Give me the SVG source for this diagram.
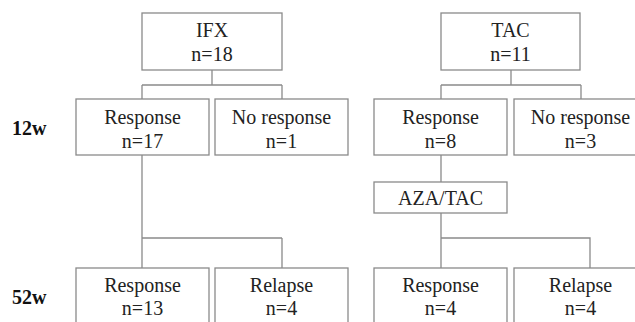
<svg xmlns="http://www.w3.org/2000/svg" width="635" height="322" viewBox="0 0 635 322">
  <style>
    .box { fill: #ffffff; stroke: #8a8a8a; stroke-width: 1.3; }
    .link { fill: none; stroke: #8a8a8a; stroke-width: 1.3; }
  </style>
  <rect width="635" height="322" fill="#ffffff"/>

  <!-- connectors -->
  <g id="connectors">
    <path class="link" d="M212,70 V85 M142,85 H282 M142,85 V99 M282,85 V99"/>
    <path class="link" d="M511,70 V85 M441,85 H581 M441,85 V99 M581,85 V99"/>
    <path class="link" d="M142,155 V238 M142,238 H282 M142,238 V268 M282,238 V268"/>
    <path class="link" d="M441,155 V182 M441,213 V268 M441,238 H590 V268"/>
  </g>

  <!-- time point labels -->
  <g id="timepoints" font-family="Liberation Serif, Times New Roman, serif" font-size="20" font-weight="bold" fill="#111111">
    <text x="12" y="135">12w</text>
    <text x="12" y="304">52w</text>
  </g>

  <g font-family="Liberation Serif, Times New Roman, serif" font-size="20" fill="#222222" text-anchor="middle">
    <!-- IFX arm -->
    <g id="ifx">
      <rect class="box" x="142" y="13" width="140" height="57"/>
      <text x="212" y="37">IFX</text>
      <text x="212" y="61">n=18</text>
    </g>
    <g id="ifx-response-12w">
      <rect class="box" x="76" y="99" width="133" height="56"/>
      <text x="142.5" y="124">Response</text>
      <text x="142.5" y="148">n=17</text>
    </g>
    <g id="ifx-noresponse-12w">
      <rect class="box" x="215" y="99" width="133" height="56"/>
      <text x="281.5" y="124">No response</text>
      <text x="281.5" y="148">n=1</text>
    </g>
    <g id="ifx-response-52w">
      <rect class="box" x="76" y="268" width="133" height="60"/>
      <text x="142.5" y="292">Response</text>
      <text x="142.5" y="315">n=13</text>
    </g>
    <g id="ifx-relapse-52w">
      <rect class="box" x="215" y="268" width="133" height="60"/>
      <text x="281.5" y="292">Relapse</text>
      <text x="281.5" y="315">n=4</text>
    </g>

    <!-- TAC arm -->
    <g id="tac">
      <rect class="box" x="441" y="13" width="139" height="57"/>
      <text x="510.5" y="37">TAC</text>
      <text x="510.5" y="61">n=11</text>
    </g>
    <g id="tac-response-12w">
      <rect class="box" x="374" y="99" width="133" height="56"/>
      <text x="440.5" y="124">Response</text>
      <text x="440.5" y="148">n=8</text>
    </g>
    <g id="tac-noresponse-12w">
      <rect class="box" x="514" y="99" width="133" height="56"/>
      <text x="580.5" y="124">No response</text>
      <text x="580.5" y="148">n=3</text>
    </g>
    <g id="aza-tac">
      <rect class="box" x="374" y="182" width="133" height="31"/>
      <text x="440.5" y="205">AZA/TAC</text>
    </g>
    <g id="tac-response-52w">
      <rect class="box" x="374" y="268" width="133" height="60"/>
      <text x="440.5" y="292">Response</text>
      <text x="440.5" y="315">n=4</text>
    </g>
    <g id="tac-relapse-52w">
      <rect class="box" x="514" y="268" width="133" height="60"/>
      <text x="580.5" y="292">Relapse</text>
      <text x="580.5" y="315">n=4</text>
    </g>
  </g>
</svg>
